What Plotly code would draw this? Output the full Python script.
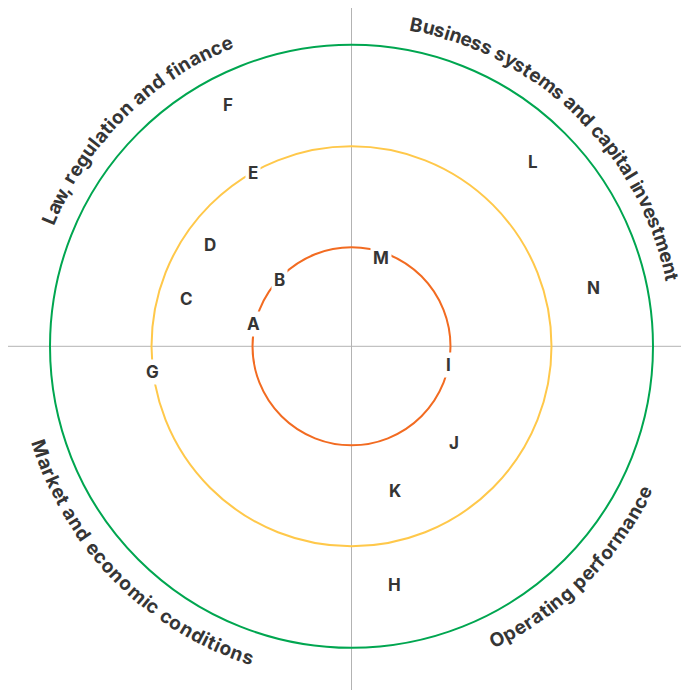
import math
import plotly.graph_objects as go

# --- data (units: 1 = one ring step, centre of the chart at 0,0)
ring_radii = [0.985, 1.99, 3.0]
ring_colors = ['#f26b21', '#ffc84a', '#00a650']

item_names = ['A', 'B', 'C', 'D', 'E', 'F', 'G', 'H', 'I', 'J', 'K', 'L', 'M', 'N']
item_x = [-0.98, -0.72, -1.64, -1.41, -0.98, -1.23, -1.98, 0.43, 0.97, 1.02, 0.43, 1.81, 0.29, 2.41]
item_y = [0.22, 0.66, 0.47, 1.01, 1.72, 2.40, -0.26, -2.38, -0.19, -0.96, -1.44, 1.83, 0.88, 0.58]

quadrant_labels = [
    'Law, regulation and finance',
    'Business systems and capital investment',
    'Market and economic conditions',
    'Operating performance',
]
# angle (deg, counter-clockwise from +x) of first and last character
label_start = [157.0, 78.5, 198.3, 296.4]
label_end = [112.4, 12.2, 251.6, 333.6]
label_radius = 3.26

# approximate advance widths (em) of Inter Bold, used to space letters on the arc
char_w = {' ': 0.26, ',': 0.27, 'a': 0.57, 'b': 0.62, 'c': 0.56, 'd': 0.62, 'e': 0.59,
          'f': 0.38, 'g': 0.62, 'i': 0.27, 'k': 0.57, 'l': 0.27, 'm': 0.91, 'n': 0.61,
          'o': 0.60, 'p': 0.62, 'r': 0.40, 's': 0.55, 't': 0.38, 'u': 0.61, 'v': 0.57,
          'y': 0.57, 'L': 0.56, 'B': 0.68, 'M': 0.90, 'O': 0.77}

TEXT_COLOR = '#353535'
AXIS_COLOR = '#b3b3b3'
FONT = 'Inter'
PX = 100.5  # pixels per unit

fig = go.Figure()

# --- cross lines
fig.add_shape(type='line', x0=-3.418, x1=3.5, y0=0, y1=0,
              line=dict(color=AXIS_COLOR, width=1), layer='below')
fig.add_shape(type='line', x0=0, x1=0, y0=-3.6, y1=3.5,
              line=dict(color=AXIS_COLOR, width=1), layer='below')

# --- rings
for r, c in zip(ring_radii, ring_colors):
    fig.add_shape(type='circle', x0=-r, x1=r, y0=-r, y1=r,
                  line=dict(color=c, width=2), layer='below')

# --- items
for name, x, y in zip(item_names, item_x, item_y):
    fig.add_annotation(x=x, y=y, text=name, showarrow=False,
                       xanchor='center', yanchor='middle',
                       font=dict(family=FONT, size=17, color=TEXT_COLOR, weight=700),
                       bgcolor='white', borderpad=2)

# --- curved quadrant labels, one annotation per character
for text, a0, a1 in zip(quadrant_labels, label_start, label_end):
    widths = [char_w.get(ch, 0.58) for ch in text]
    centres = []
    acc = 0.0
    for w in widths:
        centres.append(acc + w / 2)
        acc += w
    upper = (a0 + a1) / 2 < 180
    for ch, c in zip(text, centres):
        if ch == ' ':
            continue
        t = (c - centres[0]) / (centres[-1] - centres[0])
        ang = a0 + t * (a1 - a0)
        rad = math.radians(ang)
        rot = 90 - ang if upper else 270 - ang
        fig.add_annotation(x=label_radius * math.cos(rad), y=label_radius * math.sin(rad),
                           text=ch, showarrow=False, textangle=rot,
                           xanchor='center', yanchor='middle',
                           font=dict(family=FONT, size=19, color=TEXT_COLOR, weight=700))

# the page body adds an 8px offset, so the centre sits at (343.5, 338.3) inside the figure
cx, cy = 343.5, 338.3
W, H = 681, 682
fig.update_layout(
    width=W,
    height=H,
    margin=dict(l=0, r=0, t=0, b=0),
    plot_bgcolor='white',
    paper_bgcolor='white',
    showlegend=False,
    xaxis=dict(range=[-cx / PX, (W - cx) / PX], visible=False, fixedrange=True),
    yaxis=dict(range=[-(H - cy) / PX, cy / PX], visible=False, fixedrange=True),
)

fig.write_html('out.html')
